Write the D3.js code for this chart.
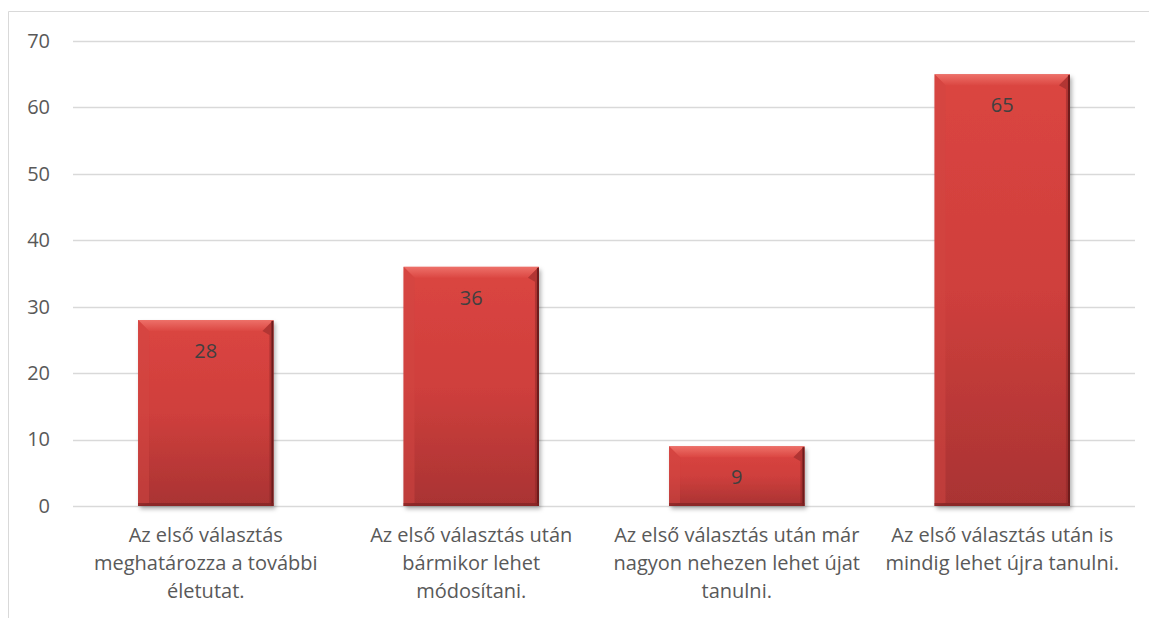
<!DOCTYPE html>
<html>
<head>
<meta charset="utf-8">
<script src="https://cdn.jsdelivr.net/npm/d3@7"></script>
<style>
    body { margin: 0; background: #fff; }
    svg { display: block; }
</style>
</head>
<body>
<div id="bar-chart"></div>
<script>
const categories = [
    ["Az első választás", "meghatározza a további", "életutat."],
    ["Az első választás után", "bármikor lehet", "módosítani."],
    ["Az első választás után már", "nagyon nehezen lehet újat", "tanulni."],
    ["Az első választás után is", "mindig lehet újra tanulni."]
];
const values = [28, 36, 9, 65];
const yTicks = [0, 10, 20, 30, 40, 50, 60, 70];

const drawBarChart = () => {

    const width = 1149;
    const height = 618;

    const margin = { top: 41, right: 14, bottom: 112, left: 73 };
    const innerWidth = width - margin.left - margin.right;
    const innerHeight = height - margin.top - margin.bottom;

    const font = "'Open Sans', sans-serif";
    const fontSize = "20px";
    const textGrey = "#595959";

    const svg = d3.select("#bar-chart")
        .append("svg")
        .attr("width", width)
        .attr("height", height);

    const defs = svg.append("defs");

    const grad = defs.append("linearGradient")
        .attr("id", "barFill")
        .attr("x1", 0).attr("y1", 0)
        .attr("x2", 0).attr("y2", 1);
    grad.append("stop").attr("offset", "0%").attr("stop-color", "#db4541");
    grad.append("stop").attr("offset", "50%").attr("stop-color", "#cf3f3c");
    grad.append("stop").attr("offset", "100%").attr("stop-color", "#a93333");

    const bevelGrad = defs.append("linearGradient")
        .attr("id", "bevelFill")
        .attr("x1", 0).attr("y1", 0)
        .attr("x2", 0).attr("y2", 1);
    bevelGrad.append("stop").attr("offset", "0%").attr("stop-color", "#f27b73");
    bevelGrad.append("stop").attr("offset", "100%").attr("stop-color", "#dc4843");

    const shadow = defs.append("filter")
        .attr("id", "barShadow")
        .attr("x", "-10%").attr("y", "-10%")
        .attr("width", "130%").attr("height", "130%");
    shadow.append("feDropShadow")
        .attr("dx", 2).attr("dy", 3)
        .attr("stdDeviation", 2)
        .attr("flood-color", "#000")
        .attr("flood-opacity", 0.3);

    // outer chart border (left and top only visible)
    svg.append("path")
        .attr("d", `M8.5,${height} V11.5 H${width}`)
        .attr("fill", "none")
        .attr("stroke", "#d9d9d9")
        .attr("stroke-width", 1);

    const innerChart = svg.append("g")
        .attr("transform", `translate(${margin.left}, ${margin.top})`);

    const xScale = d3.scaleBand()
        .domain(d3.range(categories.length))
        .range([0, innerWidth])
        .paddingInner(0.49)
        .paddingOuter(0.245);

    const yScale = d3.scaleLinear()
        .domain([0, 70])
        .range([innerHeight, 0]);

    // gridlines
    innerChart.append("g")
        .selectAll("line")
        .data(yTicks)
        .join("line")
            .attr("x1", 0)
            .attr("x2", innerWidth)
            .attr("y1", d => Math.round(yScale(d)) + 0.5)
            .attr("y2", d => Math.round(yScale(d)) + 0.5)
            .attr("stroke", "#d9d9d9")
            .attr("stroke-width", 1.3);

    //Y axis configuration
    const leftAxis = d3.axisLeft(yScale)
        .tickValues(yTicks)
        .tickSize(0)
        .tickPadding(23);

    innerChart.append("g")
        .attr("class", "axis-y")
        .call(leftAxis)
        .call(g => g.select(".domain").remove());

    d3.selectAll(".axis-y text")
        .style("font-family", font)
        .style("font-size", fontSize)
        .attr("fill", textGrey);

    // bars
    const bars = innerChart.selectAll(".bar")
        .data(values)
        .join("g")
            .attr("class", "bar");

    const bw = xScale.bandwidth();
    const bevel = 11;

    bars.append("rect")
        .attr("x", (d, i) => xScale(i))
        .attr("y", d => yScale(d))
        .attr("width", bw)
        .attr("height", d => innerHeight - yScale(d))
        .attr("fill", "url(#barFill)")
        .attr("filter", "url(#barShadow)");

    // top bevel highlight
    bars.append("path")
        .attr("d", (d, i) => {
            const x = xScale(i), y = yScale(d);
            const b = Math.min(bevel, (innerHeight - y) / 2);
            return `M${x},${y} H${x + bw} L${x + bw - b},${y + b} H${x + b} Z`;
        })
        .attr("fill", "url(#bevelFill)")
        .attr("opacity", 0.8);

    // left bevel
    bars.append("path")
        .attr("d", (d, i) => {
            const x = xScale(i), y = yScale(d), y0 = innerHeight;
            const b = Math.min(bevel, (y0 - y) / 2);
            return `M${x},${y} L${x + b},${y + b} V${y0 - 3} L${x},${y0} Z`;
        })
        .attr("fill", "#d14642")
        .attr("opacity", 0.5);

    // right dark edge
    bars.append("path")
        .attr("d", (d, i) => {
            const x = xScale(i) + bw, y = yScale(d), y0 = innerHeight;
            const b = Math.min(bevel, (y0 - y) / 2);
            return `M${x},${y} L${x - b},${y + b} L${x - 4},${y + b + 4} V${y0 - 3} L${x},${y0} Z`;
        })
        .attr("fill", "#8a2525")
        .attr("opacity", 0.5);

    bars.append("rect")
        .attr("x", (d, i) => xScale(i) + bw - 2)
        .attr("y", d => yScale(d) + 1)
        .attr("width", 2)
        .attr("height", d => innerHeight - yScale(d) - 1)
        .attr("fill", "#6e1c1c");

    // bottom dark edge
    bars.append("rect")
        .attr("x", (d, i) => xScale(i))
        .attr("y", innerHeight - 3)
        .attr("width", bw)
        .attr("height", 3)
        .attr("fill", "#7f2222")
        .attr("opacity", 0.7);

    // value labels
    bars.append("text")
        .text(d => d)
        .attr("x", (d, i) => xScale(i) + bw / 2)
        .attr("y", d => yScale(d) + 38)
        .attr("text-anchor", "middle")
        .attr("font-family", font)
        .attr("font-size", fontSize)
        .attr("fill", "#404040");

    // category labels
    const catLabels = innerChart.append("g")
        .selectAll("text")
        .data(categories)
        .join("text")
            .attr("text-anchor", "middle")
            .attr("font-family", font)
            .attr("font-size", fontSize)
            .attr("fill", textGrey);

    catLabels.selectAll("tspan")
        .data((d, i) => d.map(line => ({ line, i })))
        .join("tspan")
            .attr("x", d => xScale(d.i) + bw / 2)
            .attr("y", (d, j) => innerHeight + 36 + j * 28)
            .text(d => d.line);
};

drawBarChart();
</script>
</body>
</html>
